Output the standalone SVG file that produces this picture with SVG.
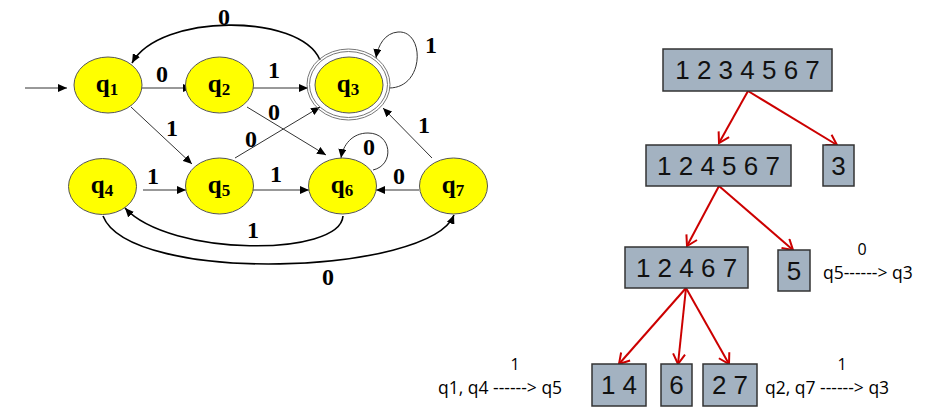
<svg xmlns="http://www.w3.org/2000/svg" width="949" height="416" viewBox="0 0 949 416">
<style>
.st{fill:#ffff00;stroke:#555;stroke-width:1}
.ring{fill:none;stroke:#777;stroke-width:1}
.ql{font-family:"Liberation Serif",serif;font-weight:bold;font-size:25px;fill:#000;text-anchor:middle}
.el{font-family:"Liberation Serif",serif;font-weight:bold;font-size:24px;fill:#000;text-anchor:middle}
.e{fill:none;stroke:#333;stroke-width:1;marker-end:url(#ah)}
.ek{fill:none;stroke:#000;stroke-width:1.6;marker-end:url(#ah)}
.box{fill:#a3b2c1;stroke:#333;stroke-width:1.5}
.bt{font-family:"Liberation Sans",Arial,sans-serif;font-size:26px;fill:#111;text-anchor:middle}
.lt{font-family:"Open Sans","Liberation Sans",sans-serif;font-size:17.5px;fill:#000}
.ls{font-family:"Open Sans","Liberation Sans",sans-serif;font-size:16px;fill:#000;text-anchor:middle}
.r{fill:none;stroke:#cc0000;stroke-width:2;marker-end:url(#ra)}
</style>
<defs>
<marker id="ah" markerUnits="userSpaceOnUse" markerWidth="10" markerHeight="8" refX="9" refY="4" orient="auto"><path d="M0,0 L9,4 L0,8 Z" fill="#000"/></marker>
<marker id="ra" markerUnits="userSpaceOnUse" markerWidth="14" markerHeight="14" refX="11" refY="7" orient="auto"><path d="M1,1 L11,7 L1,13" fill="none" stroke="#cc0000" stroke-width="2"/></marker>
</defs>
<rect width="949" height="416" fill="#fff"/>

<g id="connectors">
<path class="e" d="M25,88 L67,88"/>
<path class="e" d="M142,88 L192,88"/>
<text class="el" x="162" y="82">0</text>
<path class="e" d="M253,88 L308,88"/>
<text class="el" x="274" y="78">1</text>
<path class="ek" d="M320,60 C300,13 160,13 132,63"/>
<text class="el" x="224" y="25">0</text>
<path class="e" d="M389,88 C425,88 425,30 398,32 C385,33 378,45 376,58"/>
<text class="el" x="431" y="53">1</text>
<path class="e" d="M247,107 L326,155"/>
<text class="el" x="274" y="120">0</text>
<path class="e" d="M131,107 L192,164"/>
<text class="el" x="172" y="136">1</text>
<path class="e" d="M235,158 L320,107"/>
<text class="el" x="251" y="147">0</text>
<path class="e" d="M143,190 L186,190"/>
<text class="el" x="153" y="184">1</text>
<path class="e" d="M253,190 L309,190"/>
<text class="el" x="276" y="182">1</text>
<path class="e" d="M419,190 L376,190"/>
<text class="el" x="399" y="184">0</text>
<path class="e" d="M373,170 C395,165 392,133 368,133 C352,133 343,145 341,158"/>
<text class="el" x="369" y="155">0</text>
<path class="e" d="M432,158 L383,108"/>
<text class="el" x="424" y="133">1</text>
<path class="ek" d="M343,216 C340,257 170,257 125,208"/>
<text class="el" x="253" y="238">1</text>
<path class="ek" d="M103,216 C130,285 430,275 454,215"/>
<text class="el" x="328" y="285">0</text>

<path class="r" d="M748,91 L719,143"/>
<path class="r" d="M748,91 L837,145"/>
<path class="r" d="M719,186 L687,246"/>
<path class="r" d="M719,186 L793,250"/>
<path class="r" d="M686,288 L619,364"/>
<path class="r" d="M686,288 L678,364"/>
<path class="r" d="M686,288 L729,364"/>
</g>

<g id="q1"><ellipse class="st" cx="108" cy="85" rx="34" ry="28"/><text class="ql" x="107" y="92">q<tspan font-size="17" dy="3">1</tspan></text></g>
<g id="q2"><ellipse class="st" cx="219.5" cy="85" rx="34" ry="28"/><text class="ql" x="219" y="92">q<tspan font-size="17" dy="3">2</tspan></text></g>
<g id="q3"><ellipse class="ring" cx="348.5" cy="84.5" rx="41.5" ry="35.5"/><ellipse class="ring" cx="348.5" cy="84.5" rx="39" ry="33"/><ellipse class="st" cx="349" cy="85" rx="34" ry="28"/><text class="ql" x="348" y="92">q<tspan font-size="17" dy="3">3</tspan></text></g>
<g id="q4"><ellipse class="st" cx="102.5" cy="186.5" rx="34" ry="28"/><text class="ql" x="102" y="193">q<tspan font-size="17" dy="3">4</tspan></text></g>
<g id="q5"><ellipse class="st" cx="219.5" cy="186" rx="34" ry="28"/><text class="ql" x="219" y="193">q<tspan font-size="17" dy="3">5</tspan></text></g>
<g id="q6"><ellipse class="st" cx="342.5" cy="186" rx="34" ry="28"/><text class="ql" x="342" y="193">q<tspan font-size="17" dy="3">6</tspan></text></g>
<g id="q7"><ellipse class="st" cx="453.5" cy="186" rx="34" ry="28"/><text class="ql" x="453" y="193">q<tspan font-size="17" dy="3">7</tspan></text></g>

<g id="b1234567"><rect class="box" x="663" y="49" width="169" height="42"/><text class="bt" x="747.5" y="79">1 2 3 4 5 6 7</text></g>
<g id="b124567"><rect class="box" x="646" y="145" width="145" height="41"/><text class="bt" x="718.5" y="175">1 2 4 5 6 7</text></g>
<g id="b3"><rect class="box" x="823" y="145" width="31" height="41"/><text class="bt" x="838.5" y="175">3</text></g>
<g id="b12467"><rect class="box" x="625" y="247" width="123" height="41"/><text class="bt" x="686.5" y="277">1 2 4 6 7</text></g>
<g id="b5"><rect class="box" x="778" y="250" width="32" height="41"/><text class="bt" x="794" y="280">5</text></g>
<g id="b14"><rect class="box" x="592" y="364" width="54" height="42"/><text class="bt" x="619" y="394">1 4</text></g>
<g id="b6"><rect class="box" x="661" y="364" width="31" height="42"/><text class="bt" x="676.5" y="394">6</text></g>
<g id="b27"><rect class="box" x="703" y="364" width="54" height="42"/><text class="bt" x="730" y="394">2 7</text></g>

<g id="labels">
<text class="lt" x="823" y="279">q5------&gt; q3</text>
<text class="ls" x="862" y="255">0</text>
<text class="lt" x="438" y="394">q1, q4 ------&gt; q5</text>
<text class="ls" x="515" y="370">1</text>
<text class="lt" x="765" y="394">q2, q7 ------&gt; q3</text>
<text class="ls" x="842" y="370">1</text>
</g>
</svg>
